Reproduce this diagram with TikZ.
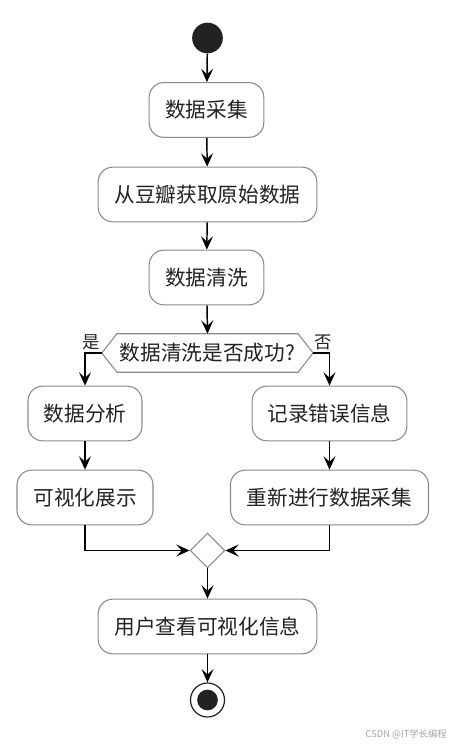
\documentclass[tikz,border=0pt]{standalone}
\usepackage{fontspec}
\setmainfont{Noto Sans CJK SC}
\usetikzlibrary{arrows.meta,shapes.geometric,calc}
\definecolor{boxline}{HTML}{8A8A8A}
\definecolor{ink}{HTML}{222222}
\tikzset{
  actbox/.style={draw=boxline, line width=0.8pt, rounded corners=11pt, minimum height=41pt, inner sep=0pt, text=ink, font=\fontsize{15.5pt}{18pt}\selectfont},
  conn/.style={draw=black, line width=1.1pt, -{Stealth[length=10pt,width=9pt,inset=4pt]}},
  lbl/.style={text=ink, font=\fontsize{13pt}{15pt}\selectfont, inner sep=0pt},
}
\begin{document}
\begin{tikzpicture}[x=0.75pt,y=-0.75pt]
\useasboundingbox (0,0) rectangle (451,746);
\node[circle, fill=ink, minimum size=23pt, inner sep=0pt] (start) at (207.5,38) {};
\node[actbox, minimum width=86pt] (s1) at (206.5,110) {数据采集};
\node[actbox, minimum width=164pt] (s2) at (207.5,194.5) {从豆瓣获取原始数据};
\node[actbox, minimum width=86pt] (s3) at (206.5,277.5) {数据清洗};
\node[minimum width=158pt, minimum height=28.5pt, inner sep=0pt, text=ink, font=\fontsize{15.5pt}{18pt}\selectfont] (dec) at (207.5,353) {数据清洗是否成功?};
\draw[draw=boxline, line width=0.8pt] (dec.west) -- ($(dec.north west)+(15,0)$) -- ($(dec.north east)+(-15,0)$) -- (dec.east) -- ($(dec.south east)+(-15,0)$) -- ($(dec.south west)+(15,0)$) -- cycle;
\node[lbl] (yes) at (91,342) {是};
\node[lbl] (no) at (323,342) {否};
\node[actbox, minimum width=85.5pt] (a1) at (85,413.5) {数据分析};
\node[actbox, minimum width=116pt] (b1) at (329.5,413.5) {记录错误信息};
\node[actbox, minimum width=102pt] (a2) at (85,497.5) {可视化展示};
\node[actbox, minimum width=148.5pt] (b2) at (329.5,497.5) {重新进行数据采集};
\node[diamond, draw=boxline, line width=0.8pt, minimum width=26pt, minimum height=26pt, inner sep=0pt] (m) at (207.5,550.5) {};
\node[actbox, minimum width=164pt] (s4) at (207.5,626.5) {用户查看可视化信息};
\node[circle, draw=ink, line width=0.9pt, minimum size=25.5pt, inner sep=0pt] (end) at (207.5,700) {};
\node[circle, fill=ink, minimum size=15.5pt, inner sep=0pt] (endin) at (end.center) {};
\node[anchor=east, text=gray!70, font=\fontsize{7pt}{8pt}\selectfont, inner sep=0pt] (wm) at (447,734) {CSDN @IT学长编程};
\draw[conn] (start) -- (s1);
\draw[conn] (s1) -- (s2);
\draw[conn] (s2) -- (s3);
\draw[conn] (s3) -- (dec.north);
\draw[conn] (dec.west) -| (a1.north);
\draw[conn] (dec.east) -| (b1.north);
\draw[conn] (a1) -- (a2);
\draw[conn] (b1) -- (b2);
\draw[conn] (a2.south) |- (m.west);
\draw[conn] (b2.south) |- (m.east);
\draw[conn] (m.south) -- (s4.north);
\draw[conn] (s4) -- (end);
\end{tikzpicture}
\end{document}
